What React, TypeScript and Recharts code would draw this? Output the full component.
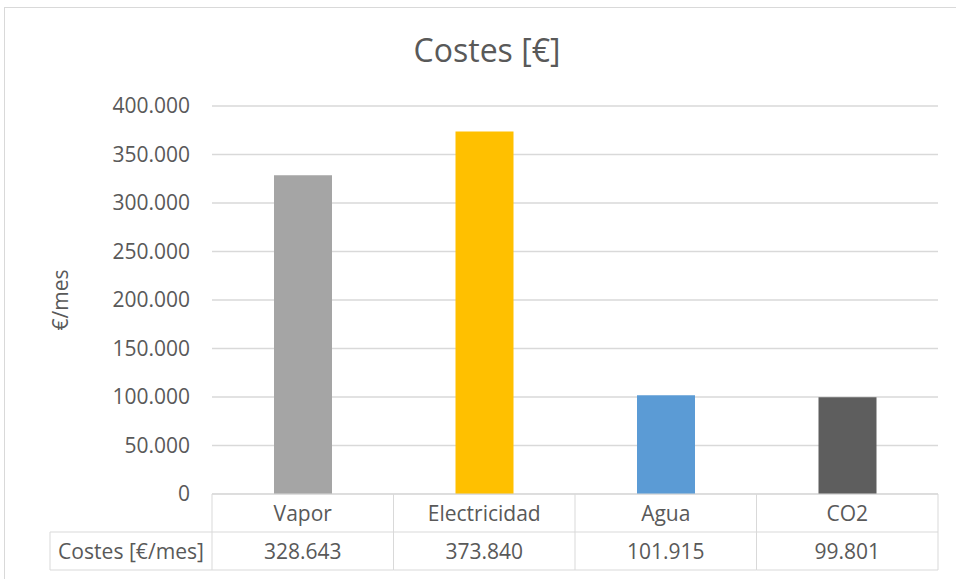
import { BarChart, Bar, XAxis, YAxis, CartesianGrid, Cell } from 'recharts'

const categories = ['Vapor', 'Electricidad', 'Agua', 'CO2']
const costes = [328643, 373840, 101915, 99801]
const barColors = ['#A5A5A5', '#FFC000', '#5B9BD5', '#5E5E5E']
const yTicks = [0, 50000, 100000, 150000, 200000, 250000, 300000, 350000, 400000]
const seriesName = 'Costes [€/mes]'

const data = categories.map((name, i) => ({ name, value: costes[i] }))

const FONT = 'Open Sans, sans-serif'
const TEXT = '#595959'
const LINE = '#d9d9d9'

// plot geometry (fixed by margins below)
const PLOT_LEFT = 212
const PLOT_RIGHT = 938
const PLOT_TOP = 106
const PLOT_BOTTOM = 494
const ROW_H = 38
const BAND = (PLOT_RIGHT - PLOT_LEFT) / categories.length
const HEADER_LEFT = 50
const CELL_FONT = 21

const fmt = (n: number) => n.toString().replace(/\B(?=(\d{3})+(?!\d))/g, '.')

const TableTick = (props: any) => {
  const { x, index, payload } = props
  const left = x - BAND / 2
  const right = x + BAND / 2
  const y0 = PLOT_BOTTOM
  const y1 = y0 + ROW_H
  const y2 = y1 + ROW_H
  return (
    <g>
      <line x1={left} y1={y0} x2={right} y2={y0} stroke={LINE} />
      <line x1={left} y1={y1} x2={right} y2={y1} stroke={LINE} />
      <line x1={left} y1={y2} x2={right} y2={y2} stroke={LINE} />
      <line x1={left} y1={y0} x2={left} y2={y2} stroke={LINE} />
      {index === categories.length - 1 && (
        <line x1={right} y1={y0} x2={right} y2={y2} stroke={LINE} />
      )}
      {index === 0 && (
        <g>
          <line x1={HEADER_LEFT} y1={y1} x2={left} y2={y1} stroke={LINE} />
          <line x1={HEADER_LEFT} y1={y2} x2={left} y2={y2} stroke={LINE} />
          <line x1={HEADER_LEFT} y1={y1} x2={HEADER_LEFT} y2={y2} stroke={LINE} />
          <text x={(HEADER_LEFT + left) / 2} y={y1 + ROW_H / 2} textAnchor="middle" dominantBaseline="central"
            fill={TEXT} fontSize={CELL_FONT} fontFamily={FONT} textLength={146} lengthAdjust="spacingAndGlyphs">{seriesName}</text>
        </g>
      )}
      <text x={x} y={y0 + ROW_H / 2} textAnchor="middle" dominantBaseline="central"
        fill={TEXT} fontSize={CELL_FONT} fontFamily={FONT}>{payload.value}</text>
      <text x={x} y={y1 + ROW_H / 2} textAnchor="middle" dominantBaseline="central"
        fill={TEXT} fontSize={CELL_FONT} fontFamily={FONT}>{fmt(costes[index])}</text>
    </g>
  )
}

const YLabel = () => {
  const cx = 60
  const cy = (PLOT_TOP + PLOT_BOTTOM) / 2
  return (
    <text x={cx} y={cy} transform={`rotate(-90 ${cx} ${cy})`} textAnchor="middle" dominantBaseline="central"
      fill={TEXT} fontSize={21} fontFamily={FONT}>€/mes</text>
  )
}

export default function App() {
  return (
    <div style={{ position: 'absolute', left: 0, top: 0, width: 956, height: 579, background: '#fff', overflow: 'hidden' }}>
      <div style={{ position: 'absolute', left: 4, top: 7, width: 980, height: 600, border: `1px solid ${LINE}` }} />
      <div style={{ position: 'absolute', left: 0, top: 28, width: 974, textAlign: 'center', fontFamily: FONT, fontSize: 32, color: TEXT }}>
        Costes [€]
      </div>
      <div style={{ position: 'absolute', left: 0, top: 0 }}>
        <BarChart width={956} height={579} data={data} margin={{ top: PLOT_TOP, right: 18, bottom: 9, left: 0 }}>
          <CartesianGrid vertical={false} stroke={LINE} strokeWidth={1.5} />
          <XAxis dataKey="name" height={76} axisLine={false} tickLine={false} interval={0} tick={<TableTick />} />
          <YAxis
            width={212}
            domain={[0, 400000]}
            ticks={yTicks}
            axisLine={false}
            tickLine={false}
            tickMargin={16}
            tickFormatter={fmt}
            tick={{ fill: TEXT, fontSize: 21, fontFamily: FONT }}
            label={{ content: <YLabel /> }}
          />
          <Bar dataKey="value" barSize={58} isAnimationActive={false}>
            {data.map((d, i) => (
              <Cell key={d.name} fill={barColors[i]} />
            ))}
          </Bar>
        </BarChart>
      </div>
    </div>
  )
}
